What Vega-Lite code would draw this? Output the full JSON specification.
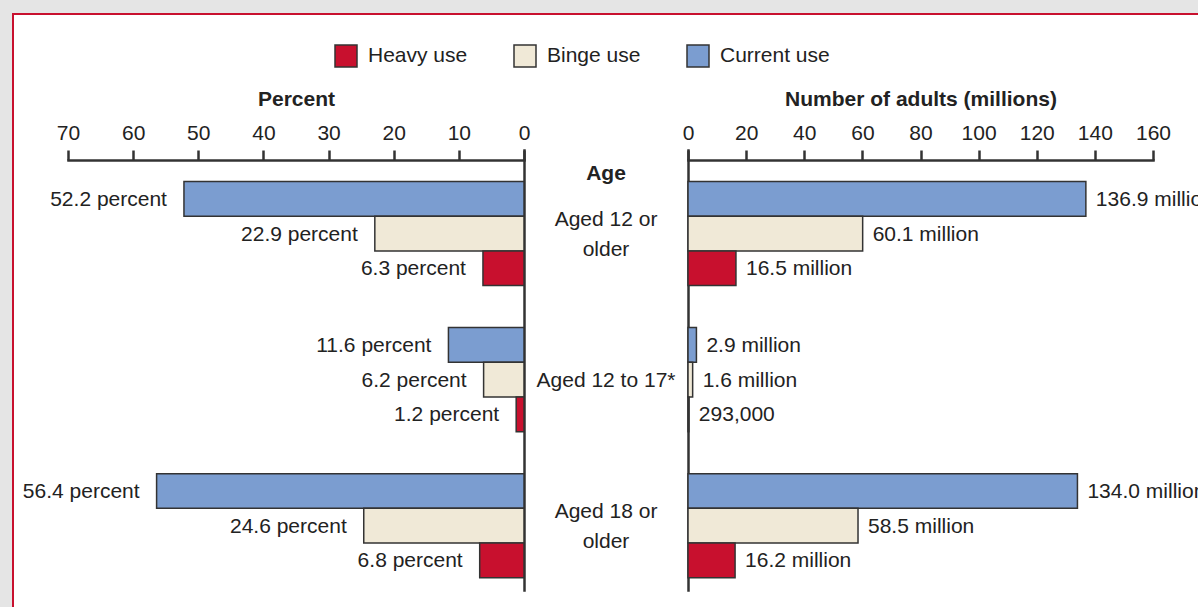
{
  "$schema": "https://vega.github.io/schema/vega-lite/v6.json",
  "autosize": {"type": "none"},
  "padding": {"left": 13, "top": 14, "right": 0, "bottom": 0},
  "background": "#e5e5e5",
  "width": 1200,
  "height": 600,
  "data": {
    "values": [
      {"age": "Aged 12 or older", "measure": "Current use", "pct": 52.2, "num": 136.9, "pctLabel": "52.2 percent", "numLabel": "136.9 million"},
      {"age": "Aged 12 or older", "measure": "Binge use", "pct": 22.9, "num": 60.1, "pctLabel": "22.9 percent", "numLabel": "60.1 million"},
      {"age": "Aged 12 or older", "measure": "Heavy use", "pct": 6.3, "num": 16.5, "pctLabel": "6.3 percent", "numLabel": "16.5 million"},
      {"age": "Aged 12 to 17*", "measure": "Current use", "pct": 11.6, "num": 2.9, "pctLabel": "11.6 percent", "numLabel": "2.9 million"},
      {"age": "Aged 12 to 17*", "measure": "Binge use", "pct": 6.2, "num": 1.6, "pctLabel": "6.2 percent", "numLabel": "1.6 million"},
      {"age": "Aged 12 to 17*", "measure": "Heavy use", "pct": 1.2, "num": 0.293, "pctLabel": "1.2 percent", "numLabel": "293,000"},
      {"age": "Aged 18 or older", "measure": "Current use", "pct": 56.4, "num": 134.0, "pctLabel": "56.4 percent", "numLabel": "134.0 million"},
      {"age": "Aged 18 or older", "measure": "Binge use", "pct": 24.6, "num": 58.5, "pctLabel": "24.6 percent", "numLabel": "58.5 million"},
      {"age": "Aged 18 or older", "measure": "Heavy use", "pct": 6.8, "num": 16.2, "pctLabel": "6.8 percent", "numLabel": "16.2 million"}
    ]
  },
  "encoding": {
    "y": {
      "field": "age", "type": "nominal", "sort": null,
      "scale": {"range": [136, 576], "paddingInner": 0.2877, "paddingOuter": 0.15, "align": 0.72}
    },
    "yOffset": {
      "field": "measure", "type": "nominal",
      "scale": {"domain": ["Current use", "Binge use", "Heavy use"], "paddingInner": 0, "paddingOuter": 0}
    }
  },
  "layer": [
    {
      "mark": {"type": "bar", "stroke": "#333333", "strokeWidth": 1.5},
      "encoding": {
        "x": {
          "field": "pct", "type": "quantitative",
          "scale": {"domain": [0, 70], "range": [511, 55], "nice": false, "zero": true},
          "axis": {"orient": "top", "offset": -146, "values": [0, 10, 20, 30, 40, 50, 60, 70], "title": "Percent"}
        },
        "y": {
          "field": "age", "type": "nominal", "sort": null,
          "axis": {"orient": "left", "offset": -511, "domain": true, "ticks": false, "labels": false, "title": null}
        },
        "color": {
          "field": "measure", "type": "nominal",
          "scale": {"domain": ["Heavy use", "Binge use", "Current use"], "range": ["#c8102e", "#f0e9d7", "#7b9dd0"]}
        }
      }
    },
    {
      "mark": {"type": "text", "align": "right", "baseline": "middle", "dx": -17, "dy": 1, "fontSize": 21, "color": "#222222"},
      "encoding": {
        "x": {
          "field": "pct", "type": "quantitative",
          "scale": {"domain": [0, 70], "range": [511, 55], "nice": false, "zero": true},
          "axis": null
        },
        "y": {
          "field": "age", "type": "nominal", "sort": null,
          "axis": {
            "orient": "left", "offset": -592.5, "domain": false, "ticks": false, "tickSize": 0,
            "labelPadding": 0, "labelAlign": "center", "labelBaseline": "middle",
            "labelOffset": {"condition": {"test": "indexof(datum.label, 'or ') >= 0", "value": -14}, "value": 1},
            "labelFontSize": 21, "labelLineHeight": 30, "labelColor": "#222222",
            "labelExpr": "split(replace(datum.label, 'or ', 'or|'), '|')",
            "title": "Age", "titleAngle": 0, "titleAlign": "center", "titleBaseline": "middle",
            "titleX": 0, "titleY": 159, "titleFontSize": 21, "titleFontWeight": "bold", "titleColor": "#222222"
          }
        },
        "text": {"field": "pctLabel"}
      }
    },
    {
      "mark": {"type": "bar", "stroke": "#333333", "strokeWidth": 1.5},
      "encoding": {
        "x": {
          "field": "num", "type": "quantitative",
          "scale": {"domain": [0, 160], "range": [675, 1140], "nice": false, "zero": true},
          "axis": {"orient": "top", "offset": -146, "values": [0, 20, 40, 60, 80, 100, 120, 140, 160], "title": "Number of adults (millions)"}
        },
        "y": {
          "field": "age", "type": "nominal", "sort": null,
          "axis": {"orient": "left", "offset": -675, "domain": true, "ticks": false, "labels": false, "title": null}
        },
        "color": {
          "field": "measure", "type": "nominal",
          "scale": {"domain": ["Heavy use", "Binge use", "Current use"], "range": ["#c8102e", "#f0e9d7", "#7b9dd0"]}
        }
      }
    },
    {
      "mark": {"type": "text", "align": "left", "baseline": "middle", "dx": 10, "dy": 1, "fontSize": 21, "color": "#222222"},
      "encoding": {
        "x": {
          "field": "num", "type": "quantitative",
          "scale": {"domain": [0, 160], "range": [675, 1140], "nice": false, "zero": true},
          "axis": null
        },
        "y": {"field": "age", "type": "nominal", "sort": null, "axis": null},
        "text": {"field": "numLabel"}
      }
    }
  ],
  "resolve": {
    "scale": {"x": "independent"},
    "axis": {"x": "independent", "y": "independent"}
  },
  "config": {
    "font": "Liberation Sans",
    "view": {"fill": "white", "stroke": "#c8102e", "strokeWidth": 2},
    "axis": {
      "grid": false,
      "domainColor": "#333333", "domainWidth": 2.5, "domainCap": "square",
      "tickColor": "#333333", "tickWidth": 2.5, "tickSize": 10,
      "labelFontSize": 21, "labelColor": "#222222", "labelPadding": 7, "labelFlush": false,
      "titleFontSize": 21, "titleFontWeight": "bold", "titleColor": "#222222", "titlePadding": 13
    },
    "legend": {
      "orient": "none", "legendX": 321, "legendY": 30, "direction": "horizontal", "title": null,
      "symbolType": "square", "symbolSize": 484, "symbolStrokeColor": "#333333", "symbolStrokeWidth": 1.5,
      "labelFontSize": 21, "labelColor": "#222222", "labelOffset": 10, "columnPadding": 43
    }
  }
}
